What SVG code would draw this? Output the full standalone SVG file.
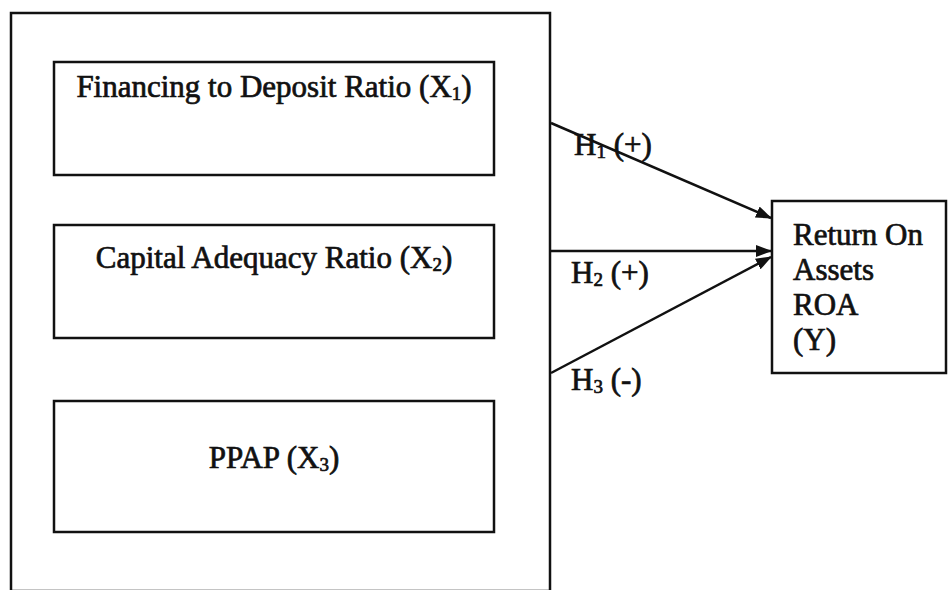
<svg xmlns="http://www.w3.org/2000/svg" width="948" height="590" viewBox="0 0 948 590">
<style>
.box{fill:#fff;stroke:#111;stroke-width:2.5}
.t{font-family:"Liberation Serif","Times New Roman",serif;font-size:31px;fill:#111;stroke:#111;stroke-width:0.7}
.c{stroke:#111;stroke-width:2.5;fill:none}
</style>
<defs>
<marker id="ah" markerWidth="16" markerHeight="12" refX="15" refY="6" orient="auto" markerUnits="userSpaceOnUse" viewBox="0 0 16 12">
<path d="M0,0 L16,6 L0,12 z" fill="#111"/>
</marker>
</defs>
<rect width="948" height="590" fill="#fff"/>
<g id="outer"><rect class="box" x="11" y="13" width="539" height="578"/></g>
<g id="x1"><rect class="box" x="54" y="62" width="440" height="113"/>
<text class="t" x="274" y="97" text-anchor="middle">Financing to Deposit Ratio (X<tspan font-size="19" dy="3">1</tspan><tspan dy="-3">)</tspan></text></g>
<g id="x2"><rect class="box" x="54" y="225" width="440" height="113"/>
<text class="t" x="274" y="268" text-anchor="middle">Capital Adequacy Ratio (X<tspan font-size="19" dy="3">2</tspan><tspan dy="-3">)</tspan></text></g>
<g id="x3"><rect class="box" x="54" y="401" width="440" height="131"/>
<text class="t" x="274" y="468" text-anchor="middle">PPAP (X<tspan font-size="19" dy="3">3</tspan><tspan dy="-3">)</tspan></text></g>
<g id="y"><rect class="box" x="772" y="201" width="174" height="172"/>
<text class="t" x="793" y="245">Return On</text>
<text class="t" x="793" y="280">Assets</text>
<text class="t" x="793" y="315">ROA</text>
<text class="t" x="793" y="350">(Y)</text></g>
<g id="connectors">
<line class="c" x1="551" y1="123" x2="771" y2="218" marker-end="url(#ah)"/>
<line class="c" x1="551" y1="251" x2="771" y2="251" marker-end="url(#ah)"/>
<line class="c" x1="551" y1="373" x2="771" y2="257" marker-end="url(#ah)"/>
<text class="t" x="574" y="155">H<tspan font-size="19" dy="3">1</tspan><tspan dy="-3"> (+)</tspan></text>
<text class="t" x="571" y="283">H<tspan font-size="19" dy="3">2</tspan><tspan dy="-3"> (+)</tspan></text>
<text class="t" x="571" y="390">H<tspan font-size="19" dy="3">3</tspan><tspan dy="-3"> (-)</tspan></text>
</g>
</svg>
